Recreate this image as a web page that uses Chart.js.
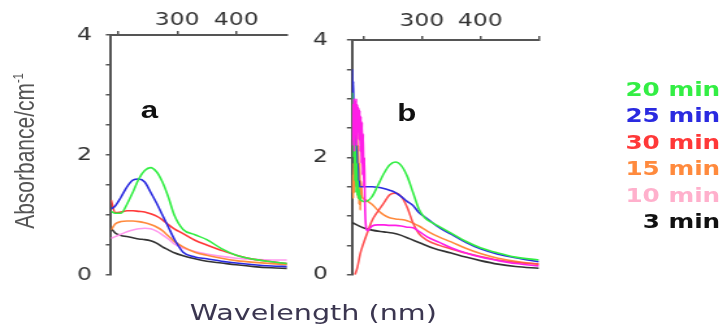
<!DOCTYPE html>
<html>
<head>
<meta charset="utf-8">
<script src="https://cdn.jsdelivr.net/npm/chart.js@4.4.1/dist/chart.umd.min.js"></script>
<style>
  body { margin: 0; background: #fff; }
  #stage { position: relative; width: 556px; height: 327px; transform: scaleX(1.3); transform-origin: 0 0; }
  canvas { position: absolute; top: 0; }
  .txt { position: absolute; white-space: nowrap; }
  #ylabel { left: 19px; top: 151px; transform: translate(-50%, -50%) rotate(-90deg);
            font: 21px "Liberation Sans", Arial, sans-serif; color: #555; }
  #ylabel sup { font-size: 11px; }
  #xlabel { left: 241px; top: 312px; transform: translate(-50%, -50%);
            font: 22px "DejaVu Sans", sans-serif; color: #3b3650; }
  .panel { transform: translate(-50%, -50%); font: bold 24px "Liberation Sans", Arial, sans-serif; color: #111; }
  #legend { right: 2px; top: 75.5px; text-align: right; font: bold 19px "DejaVu Sans", sans-serif; line-height: 26.6px; }
</style>
</head>
<body>
<div id="stage">
  <div id="ylabel" class="txt">Absorbance/cm<sup>-1</sup></div>
  <canvas id="chartA" width="200" height="300" style="left:30px"></canvas>
  <canvas id="chartB" width="200" height="300" style="left:230px"></canvas>
  <div class="txt panel" style="left:115px;top:110px">a</div>
  <div class="txt panel" style="left:313px;top:113px">b</div>
  <div id="legend" class="txt"></div>
  <div id="xlabel" class="txt">Wavelength (nm)</div>
</div>
<script>
// series names and colours (legend order)
const seriesNames = ['20 min', '25 min', '30 min', '15 min', '10 min', '3 min'];
const legendColors = ['#33ee44', '#2a2ae0', '#ff3838', '#ff8a3d', '#ffb0cc', '#111111'];

// axis ticks
const xTickVals = [200, 300, 400, 500];
const xLabelVals = [300, 400];
const yTickVals = [0, 0.5, 1, 1.5, 2, 2.5, 3, 3.5, 4];
const yLabelVals = [0, 2, 4];

// panel a: shared wavelength grid (nm)
const wlA = [188, 195, 205, 215, 225, 235, 245, 255, 265, 275, 285, 295, 310, 330, 350, 375, 400, 430, 460, 486];
const a20 = [1.06, 1.03, 1.03, 1.18, 1.38, 1.6, 1.74, 1.79, 1.72, 1.55, 1.3, 1.0, 0.76, 0.67, 0.59, 0.44, 0.33, 0.26, 0.22, 0.19];
const a25 = [1.1, 1.15, 1.3, 1.47, 1.58, 1.6, 1.55, 1.38, 1.2, 1.0, 0.8, 0.6, 0.38, 0.3, 0.27, 0.23, 0.2, 0.17, 0.15, 0.14];
const a30 = [1.25, 1.04, 1.05, 1.07, 1.07, 1.06, 1.05, 1.02, 0.98, 0.92, 0.84, 0.77, 0.69, 0.58, 0.5, 0.41, 0.33, 0.26, 0.22, 0.19];
const a15 = [0.75, 0.85, 0.89, 0.9, 0.9, 0.89, 0.87, 0.84, 0.8, 0.74, 0.65, 0.56, 0.47, 0.38, 0.33, 0.28, 0.24, 0.21, 0.19, 0.17];
const a10 = [0.61, 0.64, 0.68, 0.72, 0.75, 0.77, 0.78, 0.77, 0.73, 0.67, 0.6, 0.52, 0.45, 0.39, 0.35, 0.31, 0.28, 0.26, 0.25, 0.25];
const a3 = [0.78, 0.7, 0.66, 0.64, 0.62, 0.6, 0.59, 0.57, 0.53, 0.47, 0.42, 0.37, 0.32, 0.27, 0.23, 0.2, 0.17, 0.14, 0.12, 0.11];

// panel b: each series has its own wavelengths (noisy start below 205 nm)
const wlB20 = [181, 182, 183, 184, 185, 186, 187, 188, 189, 190, 191, 192, 193, 194, 195, 196, 198, 200, 205, 215, 225, 235, 245, 255, 265, 275, 285, 295, 305, 315, 330, 350, 375, 400, 430, 460, 500];
const b20 = [3.1, 2.3, 2.9, 2.0, 2.6, 1.6, 2.2, 1.4, 1.9, 1.35, 1.6, 1.3, 1.45, 1.28, 1.35, 1.27, 1.26, 1.25, 1.25, 1.33, 1.52, 1.72, 1.87, 1.92, 1.86, 1.68, 1.4, 1.12, 0.97, 0.9, 0.82, 0.71, 0.57, 0.46, 0.37, 0.3, 0.25];
const wlB25 = [181, 182, 183, 184, 185, 186, 187, 188, 189, 190, 191, 192, 193, 194, 196, 200, 205, 215, 225, 235, 245, 255, 265, 275, 285, 295, 310, 330, 350, 375, 400, 430, 460, 500];
const b25 = [3.5, 3.0, 3.3, 2.7, 2.9, 2.3, 2.6, 2.0, 2.2, 1.7, 1.9, 1.55, 1.6, 1.5, 1.5, 1.5, 1.5, 1.5, 1.49, 1.47, 1.44, 1.4, 1.33, 1.25, 1.18, 1.06, 0.95, 0.8, 0.69, 0.55, 0.44, 0.35, 0.29, 0.22];
const wlB30 = [186, 190, 195, 200, 205, 215, 225, 235, 245, 255, 265, 275, 285, 295, 310, 330, 350, 375, 400, 430, 460, 500];
const b30 = [0, 0.12, 0.36, 0.52, 0.66, 0.92, 1.08, 1.22, 1.36, 1.39, 1.33, 1.15, 0.88, 0.7, 0.58, 0.5, 0.44, 0.37, 0.31, 0.25, 0.21, 0.18];
const wlB15 = [181, 182, 183, 184, 185, 186, 187, 188, 189, 190, 191, 192, 193, 194, 195, 196, 198, 200, 205, 215, 225, 235, 245, 255, 265, 275, 285, 295, 310, 330, 350, 375, 400, 430, 460, 500];
const b15 = [1.4, 1.7, 1.3, 1.9, 1.4, 2.1, 1.5, 2.3, 1.6, 2.4, 1.3, 2.2, 1.2, 1.9, 1.1, 1.6, 1.35, 1.3, 1.27, 1.2, 1.1, 1.02, 0.97, 0.95, 0.94, 0.92, 0.88, 0.83, 0.74, 0.64, 0.56, 0.45, 0.36, 0.28, 0.23, 0.18];
const wlB10 = [181, 182, 183, 184, 185, 186, 187, 188, 189, 190, 191, 192, 193, 194, 195, 196, 197, 198, 199, 200, 201, 202, 203, 205, 207, 215, 225, 235, 245, 255, 265, 275, 285, 295, 310, 330, 350, 375, 400, 430, 460, 500];
const b10 = [2.2, 2.9, 2.3, 3.0, 2.1, 2.95, 2.4, 3.0, 2.2, 2.9, 2.5, 2.85, 2.3, 2.8, 2.1, 2.7, 1.9, 2.6, 1.7, 2.4, 1.5, 2.0, 1.2, 0.8, 0.75, 0.83, 0.85, 0.85, 0.84, 0.84, 0.83, 0.81, 0.8, 0.74, 0.64, 0.55, 0.46, 0.37, 0.3, 0.24, 0.19, 0.15];
const wlB3 = [181, 200, 215, 235, 250, 265, 280, 295, 320, 350, 375, 400, 430, 460, 500];
const b3 = [0.89, 0.8, 0.76, 0.73, 0.71, 0.67, 0.61, 0.55, 0.45, 0.37, 0.3, 0.24, 0.18, 0.14, 0.11];

function pts(wl, abs) {
  return wl.map((w, i) => ({ x: w, y: abs[i] }));
}

function line(label, wl, abs, color) {
  return { label: label, data: pts(wl, abs), borderColor: color, backgroundColor: color,
           borderWidth: 1.6, pointRadius: 0, fill: false, cubicInterpolationMode: 'monotone' };
}

const axisColor = '#555';
const tickFont = { family: 'DejaVu Sans', size: 18 };

function makeOptions(xmin, xmax, yWidth, xHeight, xPad, yPad, padRight, padBottom) {
  return {
    responsive: false,
    animation: false,
    layout: { padding: { right: padRight, bottom: padBottom } },
    plugins: { legend: { display: false }, tooltip: { enabled: false } },
    scales: {
      x: {
        type: 'linear', position: 'top', min: xmin, max: xmax,
        afterBuildTicks: s => { s.ticks = xTickVals.filter(v => v >= xmin && v <= xmax).map(v => ({ value: v })); },
        afterFit: s => { s.height = xHeight; },
        ticks: { autoSkip: false, maxRotation: 0, padding: xPad, color: '#333', font: tickFont,
                 callback: v => xLabelVals.includes(v) ? String(v) : '' },
        grid: { drawOnChartArea: false, tickLength: 4, color: axisColor, lineWidth: 1.5 },
        border: { color: axisColor, width: 2 }
      },
      y: {
        min: 0, max: 4,
        afterBuildTicks: s => { s.ticks = yTickVals.map(v => ({ value: v })); },
        afterFit: s => { s.width = yWidth; },
        ticks: { autoSkip: false, padding: yPad, color: '#333', font: tickFont,
                 callback: v => yLabelVals.includes(v) ? String(v) : '' },
        grid: { drawOnChartArea: false, tickLength: 4, color: axisColor, lineWidth: 1.5 },
        border: { color: axisColor, width: 2 }
      }
    }
  };
}

new Chart(document.getElementById('chartA'), {
  type: 'line',
  data: {
    datasets: [
      line('20 min', wlA, a20, '#33ee44'),
      line('25 min', wlA, a25, '#2a2ae0'),
      line('30 min', wlA, a30, '#ff3838'),
      line('15 min', wlA, a15, '#ff8a3d'),
      line('10 min', wlA, a10, '#ff99ee'),
      line('3 min', wlA, a3, '#333333')
    ]
  },
  options: makeOptions(188, 486, 55.4, 35, 0, 10.6, 9.2, 25)
});

new Chart(document.getElementById('chartB'), {
  type: 'line',
  data: {
    datasets: [
      line('10 min', wlB10, b10, '#ff1ee6'),
      line('20 min', wlB20, b20, '#33ee44'),
      line('25 min', wlB25, b25, '#2a2ae0'),
      line('30 min', wlB30, b30, '#ff5050'),
      line('15 min', wlB15, b15, '#ff8a3d'),
      line('3 min', wlB3, b3, '#333333')
    ]
  },
  options: makeOptions(181, 500, 40.8, 40, 3.5, 14.5, 15.4, 22)
});

// legend as coloured text
const legend = document.getElementById('legend');
seriesNames.forEach((name, i) => {
  const row = document.createElement('div');
  row.textContent = name;
  row.style.color = legendColors[i];
  legend.appendChild(row);
});
</script>
</body>
</html>
